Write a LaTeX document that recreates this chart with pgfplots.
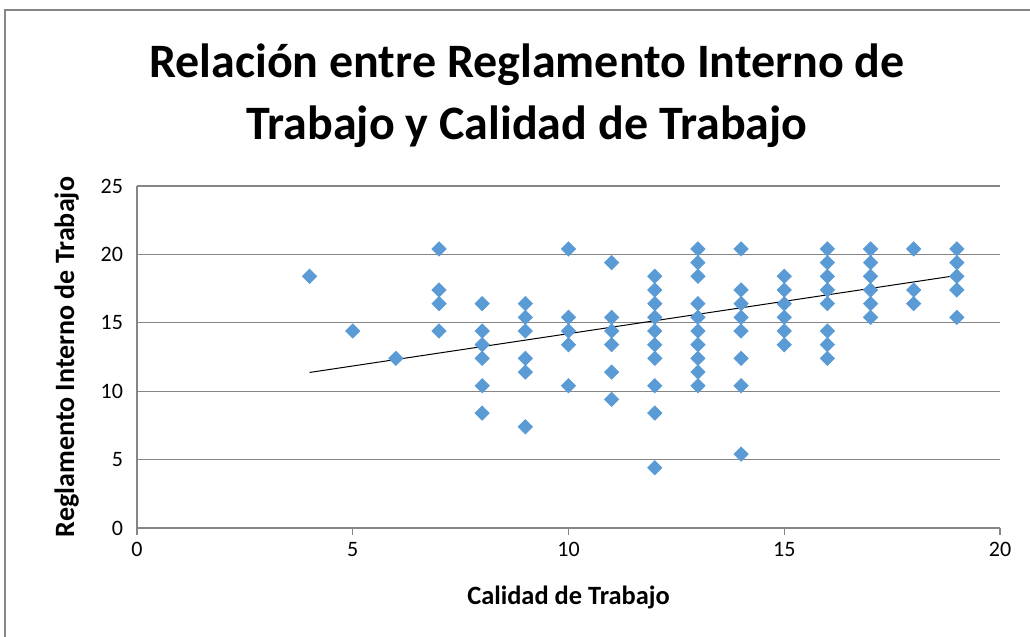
\documentclass[border=0pt]{standalone}
\usepackage{fontspec}
\setmainfont{Carlito}
\usepackage{pgfplots}
\pgfplotsset{compat=1.18}
\definecolor{ptblue}{HTML}{5B9BD5}
\definecolor{axgray}{HTML}{868686}
\begin{document}
\begin{tikzpicture}
\begin{axis}[
  at={(68.5pt,54.5pt)}, anchor=south west,
  scale only axis, width=431.5pt, height=171pt,
  xmin=0, xmax=20, ymin=0, ymax=25,
  xtick={0,5,10,15,20}, ytick={0,5,10,15,20,25},
  axis x line*=bottom, axis y line*=left,
  axis line style={axgray, line width=0.6pt, -},
  ymajorgrids, grid style={axgray, line width=0.6pt},
  xtick style={axgray, line width=0.6pt}, tick align=outside, major tick length=3.5pt,
  ytick style={draw=none},
  ticklabel style={font=\fontsize{11}{13}\selectfont},
  /pgf/number format/assume math mode=true,
  xlabel={\textbf{Calidad de Trabajo}},
  ylabel={\textbf{Reglamento Interno de Trabajo}},
  xlabel style={font=\fontsize{13.2}{15}\selectfont, yshift=-8pt},
  ylabel style={font=\fontsize{14}{16}\selectfont, yshift=4pt},
  clip=false,
]
\addplot[only marks, mark=square*, mark size=2.5pt, mark options={fill=ptblue, draw=ptblue, rotate=45}] table {
x y
4 18.4
5 14.4
6 12.4
7 20.4
7 17.4
7 16.4
7 14.4
8 16.4
8 14.4
8 13.4
8 12.4
8 10.4
8 8.4
9 16.4
9 15.4
9 14.4
9 12.4
9 11.4
9 7.4
10 20.4
10 15.4
10 14.4
10 13.4
10 10.4
11 19.4
11 15.4
11 14.4
11 13.4
11 11.4
11 9.4
12 18.4
12 17.4
12 16.4
12 15.4
12 14.4
12 13.4
12 12.4
12 10.4
12 8.4
12 4.4
13 20.4
13 19.4
13 18.4
13 16.4
13 15.4
13 14.4
13 13.4
13 12.4
13 11.4
13 10.4
14 20.4
14 17.4
14 16.4
14 15.4
14 14.4
14 12.4
14 10.4
14 5.4
15 18.4
15 17.4
15 16.4
15 15.4
15 14.4
15 13.4
16 20.4
16 19.4
16 18.4
16 17.4
16 16.4
16 14.4
16 13.4
16 12.4
17 20.4
17 19.4
17 18.4
17 17.4
17 16.4
17 15.4
18 20.4
18 17.4
18 16.4
19 20.4
19 19.4
19 18.4
19 17.4
19 15.4
};
\addplot[black, line width=0.5pt] coordinates {(4,11.37) (19,18.46)};
\end{axis}
\node[font=\bfseries\fontsize{24}{31}\selectfont, align=center] at (263.5pt,270.5pt) {Relación entre Reglamento Interno de\\Trabajo y Calidad de Trabajo};
\draw[axgray, line width=0.6pt] (2.5pt,0pt) -- (2.5pt,313.5pt) -- (515pt,313.5pt);
\pgfresetboundingbox
\useasboundingbox (0,0) rectangle (515pt,318.5pt);
\end{tikzpicture}
\end{document}
